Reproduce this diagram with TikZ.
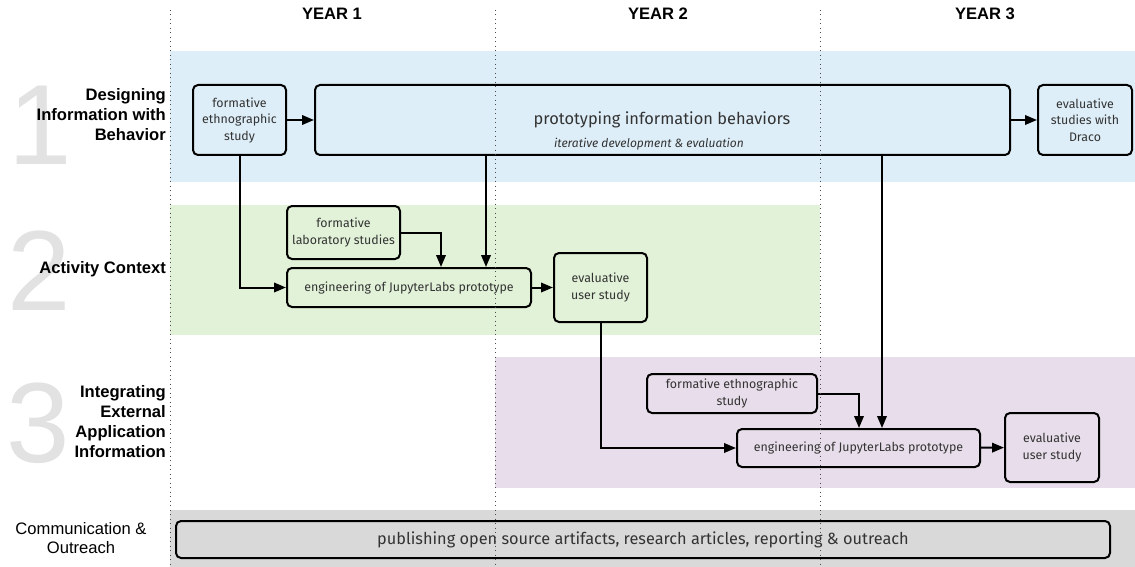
\documentclass[tikz,border=0pt]{standalone}
\usepackage{fontspec}
\setmainfont{Liberation Sans}
\newfontfamily\boxfont{Fira Sans}
\usetikzlibrary{arrows.meta}
\definecolor{bandblue}{HTML}{DEEEF8}
\definecolor{bandgreen}{HTML}{E2F2D8}
\definecolor{bandpurple}{HTML}{E8DDEA}
\definecolor{bandgray}{HTML}{D9D9D9}
\definecolor{bignum}{HTML}{E2E2E2}
\definecolor{boxtext}{HTML}{333333}
\begin{document}
\begin{tikzpicture}[x=1pt,y=-1pt,
  stagebox/.style={draw=black, line width=2pt, rounded corners=5pt,
    align=center, inner sep=2pt, text=boxtext,
    font=\boxfont\fontsize{12.4}{16.5}\selectfont},
  arr/.style={line width=2pt, -{Triangle[length=12pt,width=9.5pt]}},
  rowlabel/.style={align=right, anchor=east, inner sep=0pt,
    font=\bfseries\fontsize{16.6}{20}\selectfont},
  yearlabel/.style={font=\bfseries\fontsize{16.6}{18}\selectfont},
  numeral/.style={text=bignum, font=\fontsize{114}{114}\selectfont, inner sep=0pt},
  yearline/.style={draw=black!70, line width=1pt, dash pattern=on 1pt off 3.5pt}
]
\useasboundingbox (0,0) rectangle (1135,567);
\fill[white] (0,0) rectangle (1135,567);

% background bands, one per research thread
\fill[bandblue]   (170,51)  rectangle (1135,182);
\fill[bandgreen]  (170,205) rectangle (820,335);
\fill[bandpurple] (495,357) rectangle (1135,488);
\fill[bandgray]   (170,510) rectangle (1135,567);

% year headings
\node[yearlabel] (y1) at (332,14) {YEAR 1};
\node[yearlabel] (y2) at (658,14) {YEAR 2};
\node[yearlabel] (y3) at (985,14) {YEAR 3};

% large thread numerals
\node[numeral, anchor=center] (n1) at (40,125) {1};
\node[numeral, anchor=center] (n2) at (39,271) {2};
\node[numeral, anchor=center] (n3) at (38,423) {3};

% thread titles
\node[rowlabel] (r1) at (166,115) {Designing\\Information with\\Behavior};
\node[rowlabel] (r2) at (166,269) {Activity Context};
\node[rowlabel] (r3) at (166,422) {Integrating\\External\\Application\\Information};
\node[align=center, font=\fontsize{16.6}{19.5}\selectfont] (r4) at (81,538) {Communication \&\\Outreach};

% thread 1
\node[stagebox, minimum width=93, minimum height=70] (fe1) at (239.5,120)
  {formative\\ethnographic\\study};
\node[stagebox, minimum width=695, minimum height=70] (proto) at (662.5,120) {};
\node[text=boxtext, font=\boxfont\fontsize{16.4}{18}\selectfont] (protot) at (662,120)
  {prototyping information behaviors};
\node[text=boxtext, font=\boxfont\itshape\fontsize{12}{13}\selectfont] (protos) at (649,144)
  {iterative development \& evaluation};
\node[stagebox, minimum width=94, minimum height=70] (draco) at (1085,120)
  {evaluative\\studies with\\Draco};

% thread 2
\node[stagebox, minimum width=113, minimum height=53] (lab2) at (343.5,232.5)
  {formative\\laboratory studies};
\node[stagebox, minimum width=244, minimum height=39] (eng2) at (409,287.5)
  {engineering of JupyterLabs prototype};
\node[stagebox, minimum width=93, minimum height=69] (eval2) at (600.5,287.5)
  {evaluative\\user study};

% thread 3
\node[stagebox, minimum width=170, minimum height=39] (fe3) at (732,393.5)
  {formative ethnographic\\study};
\node[stagebox, minimum width=243, minimum height=38] (eng3) at (858.5,448)
  {engineering of JupyterLabs prototype};
\node[stagebox, minimum width=94, minimum height=69] (eval3) at (1052,447.5)
  {evaluative\\user study};

% communication
\node[stagebox, minimum width=934, minimum height=37,
  font=\boxfont\fontsize{16.3}{18}\selectfont] (pub) at (643,539.5)
  {publishing open source artifacts, research articles, reporting \& outreach};

% drop points on shared boxes
\coordinate (c441) at (441,0);
\coordinate (c486) at (486,0);
\coordinate (c859) at (859,0);
\coordinate (c882) at (882,0);

% connectors
\draw[arr] (fe1) -- (proto);
\draw[arr] (proto) -- (draco);
\draw[arr] (fe1.south) |- (eng2.west);
\draw[arr] (lab2.east) -| (c441 |- eng2.north);
\draw[arr] (proto.south -| c486) -- (eng2.north -| c486);
\draw[arr] (eng2) -- (eval2);
\draw[arr] (eval2.south) |- (eng3.west);
\draw[arr] (fe3.east) -| (c859 |- eng3.north);
\draw[arr] (proto.south -| c882) -- (eng3.north -| c882);
\draw[arr] (eng3) -- (eval3);

% year boundaries
\coordinate (t1) at (170,10);  \coordinate (b1) at (170,567);
\coordinate (t2) at (495,10);  \coordinate (b2) at (495,567);
\coordinate (t3) at (820,10);  \coordinate (b3) at (820,567);
\draw[yearline] (t1) -- (b1);
\draw[yearline] (t2) -- (b2);
\draw[yearline] (t3) -- (b3);
\end{tikzpicture}
\end{document}
